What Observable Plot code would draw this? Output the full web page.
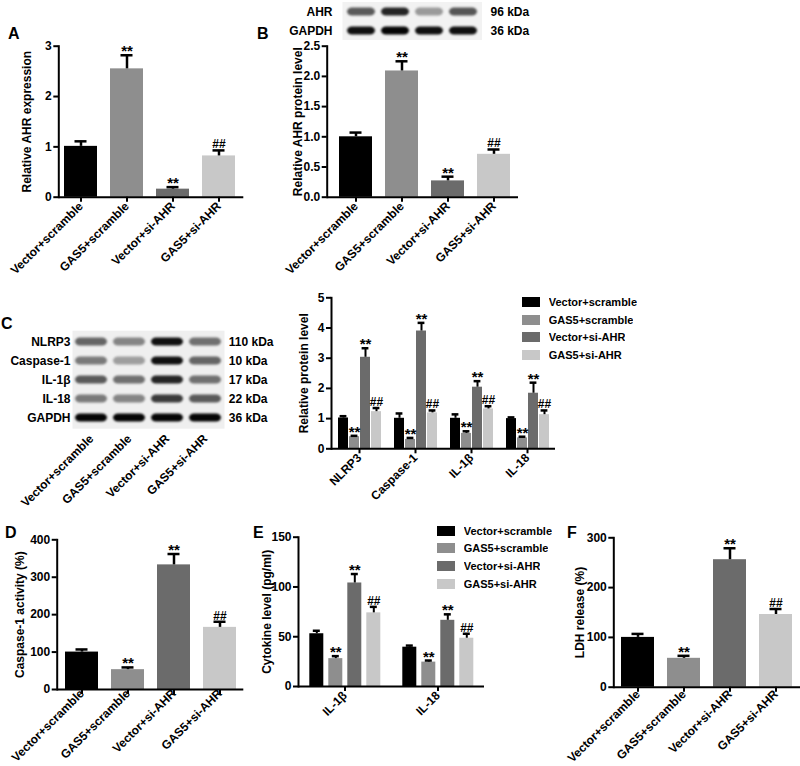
<!DOCTYPE html>
<html><head><meta charset="utf-8">
<script src="https://cdn.jsdelivr.net/npm/d3@7"></script>
<script src="https://cdn.jsdelivr.net/npm/@observablehq/plot@0.6"></script>
<style>
html,body{margin:0;padding:0;background:#fff;}
#fig{position:relative;width:800px;height:766px;overflow:hidden;background:#fff;font-family:"Liberation Sans",Arial,sans-serif;}
#fig > *{position:absolute;}
.letter{font-size:16px;font-weight:bold;line-height:16px;color:#000;}
.blot g[aria-label="cell"]{filter:blur(1.3px);}
.lg-swatch{height:17.6px !important;padding:0 !important;margin:0 !important;}
.lg-swatch svg{margin-right:9px !important;}
</style></head>
<body><div id="fig"></div>
<script>
// ---------- data ----------
const groups = ["Vector+scramble", "GAS5+scramble", "Vector+si-AHR", "GAS5+si-AHR"];
const barColors = ["#000000", "#8e8e8e", "#6b6b6b", "#c8c8c8"];
const signif = ["", "**", "**", "##"];

// A: relative AHR expression
const aMean = [1.01, 2.55, 0.16, 0.82];
const aErr = [0.10, 0.27, 0.04, 0.11];
const aTicks = [0, 1, 2, 3];

// B: relative AHR protein level
const bMean = [1.0, 2.09, 0.27, 0.71];
const bErr = [0.07, 0.16, 0.07, 0.08];
const bTicks = [0, 0.5, 1.0, 1.5, 2.0, 2.5];

// B blot
const bRows = ["AHR", "GAPDH"];
const bKda = ["96 kDa", "36 kDa"];
const bBands = [[0.6, 0.85, 0.3, 0.62], [0.95, 1.0, 0.95, 0.95]];

// C blot
const cRows = ["NLRP3", "Caspase-1", "IL-1β", "IL-18", "GAPDH"];
const cKda = ["110 kDa", "10 kDa", "17 kDa", "22 kDa", "36 kDa"];
const cBands = [
  [0.55, 0.4, 0.95, 0.5],
  [0.45, 0.28, 0.95, 0.55],
  [0.6, 0.5, 0.85, 0.5],
  [0.45, 0.4, 0.75, 0.6],
  [1.0, 1.0, 1.0, 1.0]
];

// C: relative protein level
const cCats = ["NLRP3", "Caspase-1", "IL-1β", "IL-18"];
const cMean = [[1.02, 0.40, 3.03, 1.23], [1.01, 0.31, 3.90, 1.19], [1.01, 0.51, 2.04, 1.32], [1.0, 0.36, 1.84, 1.13]];
const cErr = [[0.06, 0.03, 0.30, 0.12], [0.16, 0.05, 0.27, 0.08], [0.13, 0.07, 0.20, 0.09], [0.04, 0.04, 0.35, 0.14]];
const cTicks = [0, 1, 2, 3, 4, 5];

// D: caspase-1 activity
const dMean = [100, 53, 333, 166];
const dErr = [7, 6, 29, 15];
const dTicks = [0, 100, 200, 300, 400];

// E: cytokine level
const eCats = ["IL-1β", "IL-18"];
const eMean = [[53, 28, 104, 74], [39.5, 24.5, 66.5, 48.5]];
const eErr = [[3, 2.5, 9, 6], [1.6, 1.6, 6, 4.5]];
const eTicks = [0, 50, 100, 150];

// F: LDH release
const fMean = [100, 58, 256, 146];
const fErr = [7, 5, 23, 11];
const fTicks = [0, 100, 200, 300];

// ---------- helpers ----------
const fig = document.getElementById("fig");
const FONT = "'Liberation Sans', Arial, sans-serif";
const base = {background: "transparent", fontFamily: FONT, fontSize: "12px", fontWeight: "bold", color: "#000", overflow: "visible"};
const txt = {fontSize: 12, fontWeight: "bold", fontFamily: FONT};
const intFmt = d3.format("d");
function place(el, left, top) { el.style.left = left + "px"; el.style.top = top + "px"; fig.appendChild(el); return el; }
function letter(t, left, top) { const d = document.createElement("div"); d.className = "letter"; d.textContent = t; place(d, left, top); }
const topOf = d => d.v + d.e;

function starMarks(data, ch) {
  return [
    Plot.text(data.filter(d => d.m === "**"), {...ch, y: topOf, text: "m", lineAnchor: "bottom", fontSize: 15, fontWeight: "bold", dy: 1}),
    Plot.text(data.filter(d => d.m === "##"), {...ch, y: topOf, text: "m", lineAnchor: "bottom", fontSize: 12, fontWeight: "bold", dy: -2})
  ];
}

function simplePanel(o) {
  const data = groups.map((g, i) => ({g, v: o.mean[i], e: o.err[i], m: signif[i]}));
  return Plot.plot({
    width: o.w, height: o.h, marginLeft: o.ml, marginRight: o.mr, marginTop: o.mt, marginBottom: o.mb,
    style: base,
    x: {domain: groups, paddingInner: 0.29, paddingOuter: o.po, align: o.al, label: null},
    y: {domain: o.ydom, label: null},
    color: {domain: groups, range: barColors},
    marks: [
      Plot.barY(data, {x: "g", y: "v", fill: "g"}),
      Plot.ruleX(data, {x: "g", y1: "v", y2: topOf, strokeWidth: 2.5}),
      Plot.tickY(data, {x: "g", y: topOf, strokeWidth: 2.5, insetLeft: o.cap, insetRight: o.cap}),
      ...starMarks(data, {x: "g"}),
      Plot.ruleY([0], {strokeWidth: 2}),
      Plot.frame({anchor: "left", strokeWidth: 2}),
      Plot.axisY({...txt, ticks: o.ticks, tickFormat: o.fmt || intFmt, tickSize: 5, tickPadding: 2, strokeWidth: 2, label: o.ylabel, labelAnchor: "center", labelOffset: o.lo, labelArrow: false}),
      Plot.axisX({...txt, tickRotate: -45, tickSize: 5, tickPadding: o.tp ?? 2, strokeWidth: 2, label: null})
    ]
  });
}

function groupedPanel(o) {
  const data = o.cats.flatMap((c, ci) => groups.map((g, gi) => ({c, g, v: o.mean[ci][gi], e: o.err[ci][gi], m: signif[gi]})));
  return Plot.plot({
    width: o.w, height: o.h, marginLeft: o.ml, marginRight: o.mr, marginTop: o.mt, marginBottom: o.mb,
    style: base,
    fx: {domain: o.cats, padding: 0, label: null},
    x: {domain: groups, paddingInner: o.pi, paddingOuter: o.po, align: o.al, axis: null},
    y: {domain: o.ydom, label: null},
    color: {domain: groups, range: barColors},
    marks: [
      Plot.barY(data, {fx: "c", x: "g", y: "v", fill: "g"}),
      Plot.ruleX(data, {fx: "c", x: "g", y1: "v", y2: topOf, strokeWidth: 2}),
      Plot.tickY(data, {fx: "c", x: "g", y: topOf, strokeWidth: 2.5, insetLeft: o.cap, insetRight: o.cap}),
      ...starMarks(data, {fx: "c", x: "g"}),
      Plot.ruleY([0], {strokeWidth: 2}),
      Plot.frame({anchor: "left", facetAnchor: "left", strokeWidth: 2}),
      Plot.axisY({...txt, ticks: o.ticks, tickFormat: intFmt, tickSize: 5, tickPadding: 2, strokeWidth: 2, label: o.ylabel, labelAnchor: "center", labelOffset: o.lo, labelArrow: false}),
      Plot.axisFx({...txt, anchor: "bottom", tickRotate: -45, tickSize: 5, tickPadding: 2, strokeWidth: 2, label: null})
    ]
  });
}

function blot(o) {
  const data = o.rows.flatMap((r, ri) => groups.map((l, li) => ({r, l, v: o.bands[ri][li]})));
  const kdaOf = new Map(o.rows.map((r, i) => [r, o.kda[i]]));
  const marks = [
    Plot.frame({fill: o.bg, stroke: "none"}),
    Plot.cell(data, {x: "l", y: "r", fill: "v", insetLeft: o.ix, insetRight: o.ix, insetTop: o.iy, insetBottom: o.iy, rx: 5}),
    Plot.axisY({...txt, tickSize: 0, tickPadding: o.lp, label: null}),
    Plot.axisY({...txt, anchor: "right", tickSize: 0, tickPadding: o.rp, tickFormat: d => kdaOf.get(d), label: null})
  ];
  if (o.lanes) marks.push(Plot.axisX({...txt, tickRotate: -45, tickSize: 0, tickPadding: 8, label: null}));
  return Plot.plot({
    width: o.w, height: o.h, marginLeft: o.ml, marginRight: o.mr, marginTop: o.mt, marginBottom: o.mb,
    className: "blot",
    style: base,
    x: {domain: groups, padding: 0, axis: o.lanes ? undefined : null},
    y: {domain: o.rows, padding: 0},
    color: {type: "linear", domain: [0, 1], range: ["#dadada", "#050505"]},
    marks
  });
}

function legend(left, top) {
  const el = Plot.legend({
    color: {domain: groups, range: barColors},
    legend: "swatches", columns: 1, swatchWidth: 18, swatchHeight: 10, className: "lg",
    style: {fontFamily: FONT, fontSize: "11px", fontWeight: "bold", color: "#000", background: "transparent"}
  });
  el.style.width = "160px";
  place(el, left, top);
}

// ---------- panels ----------
place(blot({rows: bRows, kda: bKda, bands: bBands, w: 270, h: 45, ml: 62, mr: 68.5, mt: 1.5, mb: 5.5, ix: 3, iy: 5.5, lp: 10, rp: 8.5, bg: "#f2f2f2", lanes: false}), 280, 0);

place(simplePanel({mean: aMean, err: aErr, ydom: [0, 3], ticks: aTicks, ylabel: "Relative AHR expression", lo: 36,
  w: 250, h: 290, ml: 58.3, mr: 6.7, mt: 45.7, mb: 93.3, po: 0.125, al: 0.38, cap: 10.5}), 0, 0);

place(simplePanel({mean: bMean, err: bErr, ydom: [0, 2.5], ticks: bTicks, fmt: d3.format(".1f"), ylabel: "Relative AHR protein level", lo: 33.4,
  w: 262, h: 290, ml: 64.7, mr: 6, mt: 45.7, mb: 93.3, po: 0.19, al: 0.61, cap: 10.5}), 262, 0);

place(blot({rows: cRows, kda: cKda, bands: cBands, w: 290, h: 225, ml: 72, mr: 66, mt: 45.2, mb: 81.8, ix: 3, iy: 5.5, lp: 2, rp: 4.3, bg: "#efefef", lanes: true}), 0, 285);

place(groupedPanel({cats: cCats, mean: cMean, err: cErr, ydom: [0, 5], ticks: cTicks, ylabel: "Relative protein level", lo: 31.7,
  w: 300, h: 225, ml: 68, mr: 5.3, mt: 12.3, mb: 61.7, pi: 0.135, po: 0.45, al: 0.5, cap: 1.6}), 262, 285);
legend(521.7, 293.4);

place(simplePanel({mean: dMean, err: dErr, ydom: [0, 400], ticks: dTicks, ylabel: "Caspase-1 activity (%)", lo: 41.7,
  w: 250, h: 246, ml: 56.7, mr: 6.7, mt: 19.3, mb: 77, po: 0.156, al: 0.5, cap: 10.5, tp: -3}), 0, 520);

place(groupedPanel({cats: eCats, mean: eMean, err: eErr, ydom: [0, 150], ticks: eTicks, ylabel: "Cytokine level (pg/ml)", lo: 36,
  w: 250, h: 246, ml: 57.7, mr: 5, mt: 16.7, mb: 80, pi: 0.25, po: 0.465, al: 0.5, cap: 3.5}), 240, 520);
legend(436.7, 522);

place(simplePanel({mean: fMean, err: fErr, ydom: [0, 300], ticks: fTicks, ylabel: "LDH release (%)", lo: 38.3,
  w: 245, h: 246, ml: 58.3, mr: 0, mt: 17.3, mb: 79.3, po: 0.165, al: 0.5, cap: 10.5, tp: 0}), 555, 520);

letter("A", 8, 26);
letter("B", 257, 26);
letter("C", 1, 316);
letter("D", 5, 524.5);
letter("E", 253, 524.5);
letter("F", 567, 524.5);
</script></body></html>
